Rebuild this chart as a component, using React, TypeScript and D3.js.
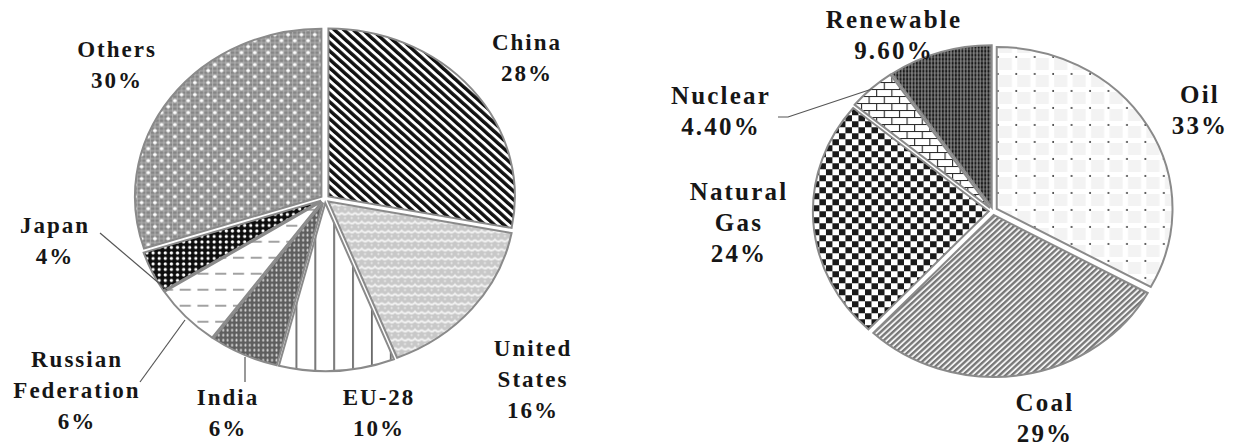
import React from "react";
import * as d3 from "d3";

// left pie: emission share by country
const countries = ["China", "United States", "EU-28", "India", "Russian Federation", "Japan", "Others"];
const countryShare = [28, 16, 10, 6, 6, 4, 30];
const countryLabels = [["China", "28%"], ["United", "States", "16%"], ["EU-28", "10%"], ["India", "6%"], ["Russian", "Federation", "6%"], ["Japan", "4%"], ["Others", "30%"]];

// right pie: energy source share
const sources = ["Oil", "Coal", "Natural Gas", "Nuclear", "Renewable"];
const sourceShare = [33, 29, 24, 4.4, 9.6];
const sourceLabels = [["Oil", "33%"], ["Coal", "29%"], ["Natural", "Gas", "24%"], ["Nuclear", "4.40%"], ["Renewable", "9.60%"]];

const W = 1241;
const H = 446;
const EXPLODE = 4;
const FONT = '"Liberation Serif", "Times New Roman", Tinos, "DejaVu Serif", serif';

const LEFT = { cx: 325, cy: 199, r: 168, sx: 1.11, fontSize: 23, ls: 2 };
const RIGHT = { cx: 993, cy: 211, r: 162, sx: 1.085, fontSize: 25, ls: 2.2 };

const leftFills = ["pChina", "pUS", "pEU", "pIndia", "pRussia", "pJapan", "pOthers"];
const rightFills = ["pOil", "pCoal", "pGas", "pNuclear", "pRenew"];

// label anchor (centre x, first baseline) per slice
const leftLabelPos = [[527, 50], [533, 356], [379, 405], [228, 405], [77, 367], [55, 233], [117, 57]];
const rightLabelPos = [[1200, 103], [1045, 411], [739, 200], [721, 104], [894, 28]];

const leaders = [
  [[100, 233], [167, 290]],
  [[140, 382], [185, 320]],
  [[245, 357], [245, 382]],
  [[778, 117], [788, 117], [872, 89]],
];

const Patterns = () => (
  <defs>
    <pattern id="pChina" width="6" height="6" patternUnits="userSpaceOnUse" patternTransform="rotate(-45)">
      <rect width="6" height="6" fill="#fff" />
      <rect width="3.3" height="6" fill="#111" />
    </pattern>
    <pattern id="pUS" width="12" height="9" patternUnits="userSpaceOnUse">
      <rect width="12" height="9" fill="#c8c8c8" />
      <path d="M0,2 Q3,6 6,2 Q9,6 12,2" stroke="#f4f4f4" strokeWidth="1.8" fill="none" />
      <circle cx="3" cy="7.5" r="0.9" fill="#eee" />
      <circle cx="9" cy="7.5" r="0.9" fill="#eee" />
    </pattern>
    <pattern id="pEU" width="17" height="17" patternUnits="userSpaceOnUse">
      <rect width="17" height="17" fill="#fff" />
      <line x1="8" y1="0" x2="8" y2="17" stroke="#333" strokeWidth="1.2" />
    </pattern>
    <pattern id="pIndia" width="4" height="5" patternUnits="userSpaceOnUse">
      <rect width="4" height="5" fill="#5e5e5e" />
      <ellipse cx="2" cy="2.5" rx="0.9" ry="1.5" fill="#d8d8d8" />
    </pattern>
    <pattern id="pRussia" width="16" height="16" patternUnits="userSpaceOnUse">
      <rect width="16" height="16" fill="#fff" />
      <line x1="0" y1="8" x2="10" y2="8" stroke="#555" strokeWidth="1.1" />
    </pattern>
    <pattern id="pJapan" width="5.5" height="5.5" patternUnits="userSpaceOnUse">
      <rect width="5.5" height="5.5" fill="#0d0d0d" />
      <circle cx="2.75" cy="2.75" r="1.5" fill="#fff" />
    </pattern>
    <pattern id="pOthers" width="12" height="12" patternUnits="userSpaceOnUse">
      <rect width="12" height="12" fill="#858585" />
      <path d="M2,0V12M6,0V12M10,0V12M0,2H12M0,6H12M0,10H12" stroke="#b8b8b8" strokeWidth="0.8" />
      <circle cx="6" cy="6" r="1.7" fill="#fff" />
      <circle cx="0" cy="0" r="1.7" fill="#fff" />
      <circle cx="12" cy="0" r="1.7" fill="#fff" />
      <circle cx="0" cy="12" r="1.7" fill="#fff" />
      <circle cx="12" cy="12" r="1.7" fill="#fff" />
    </pattern>
    <pattern id="pOil" width="17" height="17" patternUnits="userSpaceOnUse">
      <rect width="17" height="17" fill="#fff" />
      <rect x="2" y="2" width="12" height="12" fill="#f3f3f3" />
      <circle cx="1" cy="1" r="0.9" fill="#333" />
    </pattern>
    <pattern id="pCoal" width="4" height="4" patternUnits="userSpaceOnUse" patternTransform="rotate(45)">
      <rect width="4" height="4" fill="#f2f2f2" />
      <rect width="2.2" height="4" fill="#777" />
    </pattern>
    <pattern id="pGas" width="12" height="12" patternUnits="userSpaceOnUse">
      <rect width="12" height="12" fill="#fff" />
      <rect width="6" height="6" fill="#1a1a1a" />
      <rect x="6" y="6" width="6" height="6" fill="#1a1a1a" />
    </pattern>
    <pattern id="pNuclear" width="14" height="14" patternUnits="userSpaceOnUse">
      <rect width="14" height="14" fill="#fff" />
      <path d="M0,0.5H14M0.5,0V7M0,7.5H14M7.5,7V14" stroke="#222" strokeWidth="1" fill="none" />
    </pattern>
    <pattern id="pRenew" width="3" height="4" patternUnits="userSpaceOnUse">
      <rect width="3" height="4" fill="#1a1a1a" />
      <line x1="1.5" y1="0" x2="1.5" y2="4" stroke="#ddd" strokeWidth="0.7" />
      <line x1="0" y1="2" x2="3" y2="2" stroke="#aaa" strokeWidth="0.5" />
    </pattern>
  </defs>
);

type PieProps = {
  values: number[];
  fills: string[];
  conf: typeof LEFT;
};

const Pie = ({ values, fills, conf }: PieProps) => {
  const pie = d3.pie<number>().sort(null).value((d) => d).startAngle(0).endAngle(2 * Math.PI);
  const arc = d3.arc<d3.PieArcDatum<number>>().innerRadius(0).outerRadius(conf.r);
  const arcs = pie(values);
  return (
    <g transform={`translate(${conf.cx},${conf.cy}) scale(${conf.sx},1)`}>
      {arcs.map((a, i) => {
        const mid = (a.startAngle + a.endAngle) / 2;
        const dx = Math.sin(mid) * EXPLODE;
        const dy = -Math.cos(mid) * EXPLODE;
        return (
          <path
            key={i}
            d={arc(a) || ""}
            transform={`translate(${dx},${dy})`}
            fill={`url(#${fills[i]})`}
            stroke="#8a8a8a"
            strokeWidth={2}
            vectorEffect="non-scaling-stroke"
          />
        );
      })}
    </g>
  );
};

const Labels = ({ lines, pos, conf }: { lines: string[][]; pos: number[][]; conf: typeof LEFT }) => (
  <g style={{ fontFamily: FONT, fontWeight: 700, fontSize: conf.fontSize, letterSpacing: conf.ls }} fill="#161616" textAnchor="middle">
    {lines.map((ls, i) => (
      <text key={i} x={pos[i][0]} y={pos[i][1]}>
        {ls.map((t, j) => (
          <tspan key={j} x={pos[i][0]} dy={j === 0 ? 0 : 31}>{t}</tspan>
        ))}
      </text>
    ))}
  </g>
);

export default function App() {
  const line = d3.line();
  return (
    <svg width={W} height={H} style={{ position: "absolute", left: 0, top: 0, background: "#fff" }}>
      <Patterns />
      <rect width={W} height={H} fill="#fff" />
      <Pie values={countryShare} fills={leftFills} conf={LEFT} />
      <Pie values={sourceShare} fills={rightFills} conf={RIGHT} />
      {leaders.map((pts, i) => (
        <path key={i} d={line(pts as [number, number][]) || ""} stroke="#555" strokeWidth={1.2} fill="none" />
      ))}
      <Labels lines={countryLabels} pos={leftLabelPos} conf={LEFT} />
      <Labels lines={sourceLabels} pos={rightLabelPos} conf={RIGHT} />
    </svg>
  );
}
